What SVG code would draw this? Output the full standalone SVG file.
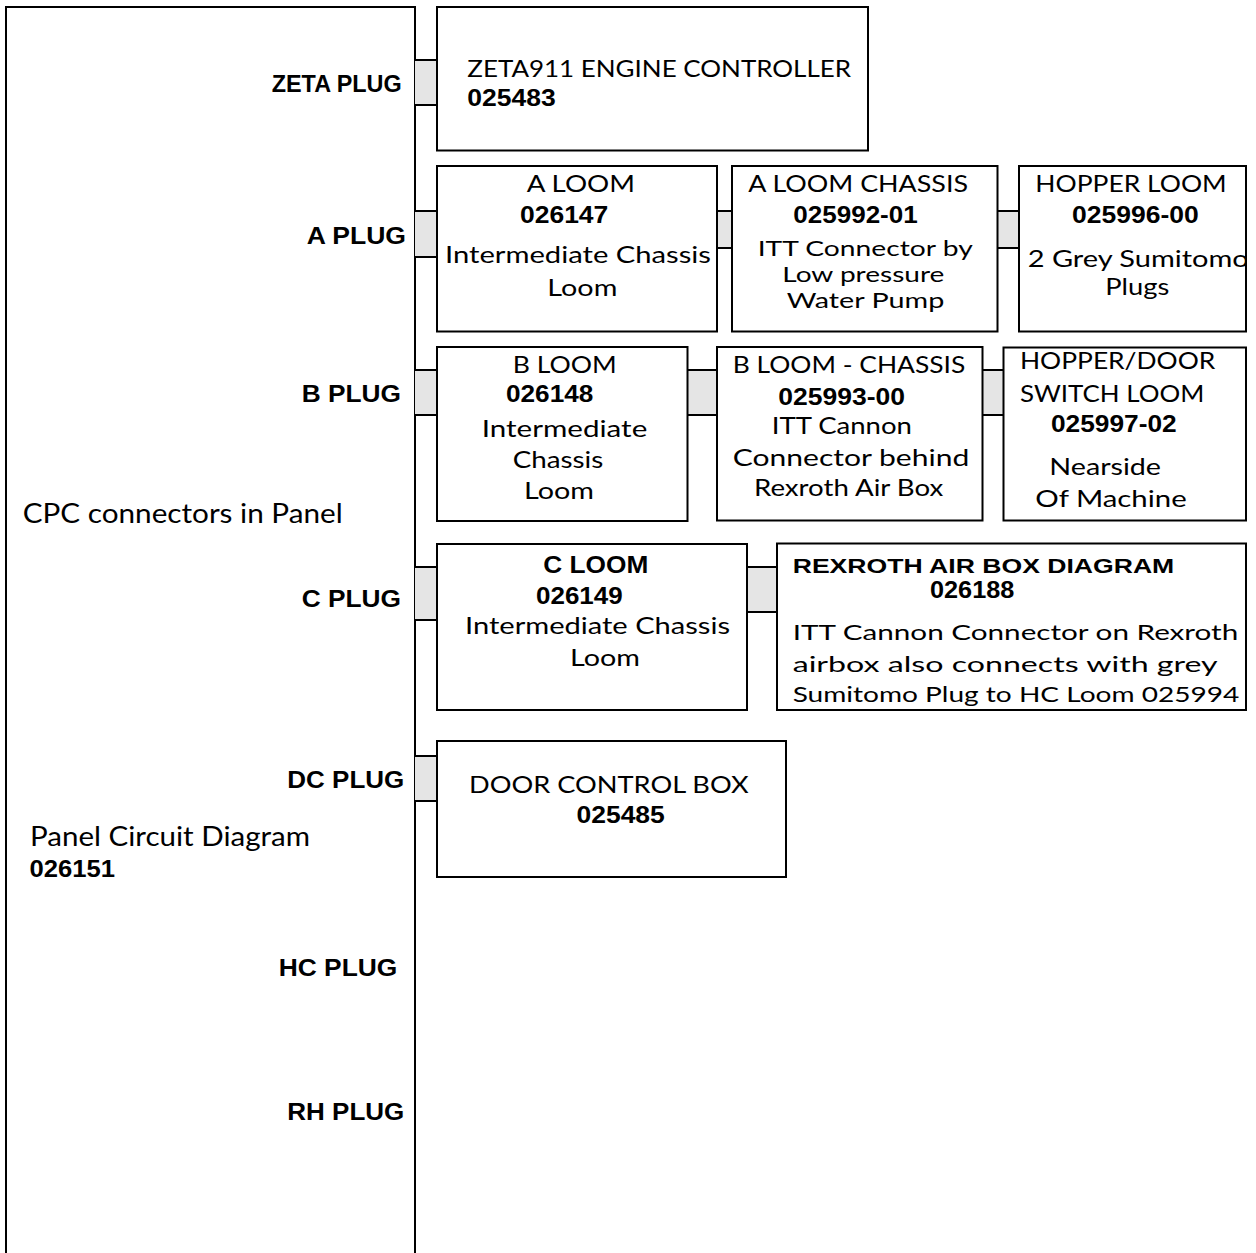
<svg xmlns="http://www.w3.org/2000/svg" width="1256" height="1253" viewBox="0 0 1256 1253">
<style>
.bx{fill:#fff;stroke:#000;stroke-width:2}
.ln{fill:none;stroke:#000;stroke-width:2}
.cf{fill:#e5e5e5;stroke:none}
.r{font-family:Lato,"DejaVu Sans",sans-serif;font-weight:400;font-size:24px;fill:#000}
.b{font-family:"Liberation Sans",Arial,sans-serif;font-weight:bold;font-size:24px;fill:#000}
.s21{font-size:21px}
.s23{font-size:23px}
.s26{font-size:26px}
</style>
<defs>
<clipPath id="clipHopper"><rect x="1019" y="166" width="226" height="165"/></clipPath>
</defs>
<rect width="1256" height="1253" fill="#fff"/>

<g id="panel">
<polyline class="ln" points="6,1253 6,7 415,7 415,1253"/>
<text class="r s26" x="22.7" y="522.7" textLength="320" lengthAdjust="spacingAndGlyphs">CPC connectors in Panel</text>
<text class="r s26" x="30" y="845.7" textLength="280" lengthAdjust="spacingAndGlyphs">Panel Circuit Diagram</text>
<text class="b" x="29.5" y="876.7" textLength="85.5" lengthAdjust="spacingAndGlyphs">026151</text>
<text class="b" x="271.7" y="92" textLength="130" lengthAdjust="spacingAndGlyphs">ZETA PLUG</text>
<text class="b" x="306.7" y="244.3" textLength="99.3" lengthAdjust="spacingAndGlyphs">A PLUG</text>
<text class="b" x="301.7" y="401.7" textLength="99.3" lengthAdjust="spacingAndGlyphs">B PLUG</text>
<text class="b" x="301.7" y="606.7" textLength="99.3" lengthAdjust="spacingAndGlyphs">C PLUG</text>
<text class="b" x="287.3" y="788.3" textLength="117" lengthAdjust="spacingAndGlyphs">DC PLUG</text>
<text class="b" x="278.7" y="976" textLength="118.7" lengthAdjust="spacingAndGlyphs">HC PLUG</text>
<text class="b" x="287.3" y="1120" textLength="117" lengthAdjust="spacingAndGlyphs">RH PLUG</text>
</g>

<g id="connectors">
<rect class="cf" x="415" y="60" width="22" height="45"/><path class="ln" d="M415 60H437M415 105H437"/>
<rect class="cf" x="415" y="211" width="22" height="46"/><path class="ln" d="M415 211H437M415 257H437"/>
<rect class="cf" x="717" y="211" width="15" height="37"/><path class="ln" d="M717 211H732M717 248H732"/>
<rect class="cf" x="997.5" y="211" width="21.5" height="37"/><path class="ln" d="M997.5 211H1019M997.5 248H1019"/>
<rect class="cf" x="415" y="370" width="22" height="45"/><path class="ln" d="M415 370H437M415 415H437"/>
<rect class="cf" x="687.5" y="370" width="29.5" height="45"/><path class="ln" d="M687.5 370H717M687.5 415H717"/>
<rect class="cf" x="982.5" y="370" width="21" height="45"/><path class="ln" d="M982.5 370H1003.5M982.5 415H1003.5"/>
<rect class="cf" x="415" y="567" width="22" height="53"/><path class="ln" d="M415 567H437M415 620H437"/>
<rect class="cf" x="747" y="567" width="30" height="45"/><path class="ln" d="M747 567H777M747 612H777"/>
<rect class="cf" x="415" y="756" width="22" height="45"/><path class="ln" d="M415 756H437M415 801H437"/>
</g>

<g id="zeta">
<rect class="bx" x="437" y="7" width="431" height="143.5"/>
<text class="r" x="467.3" y="76.7" textLength="383.7" lengthAdjust="spacingAndGlyphs">ZETA911 ENGINE CONTROLLER</text>
<text class="b" x="467.3" y="106" textLength="88.4" lengthAdjust="spacingAndGlyphs">025483</text>
</g>

<g id="a-loom">
<rect class="bx" x="437" y="166" width="280" height="165.5"/>
<text class="r" x="526.7" y="192.3" textLength="108.3" lengthAdjust="spacingAndGlyphs">A LOOM</text>
<text class="b" x="520" y="223.3" textLength="88.3" lengthAdjust="spacingAndGlyphs">026147</text>
<text class="r" x="445" y="263.3" textLength="266" lengthAdjust="spacingAndGlyphs">Intermediate Chassis</text>
<text class="r" x="547.3" y="295.7" textLength="70" lengthAdjust="spacingAndGlyphs">Loom</text>
</g>

<g id="a-loom-chassis">
<rect class="bx" x="732" y="166" width="265.5" height="165.5"/>
<text class="r" x="748.3" y="191.7" textLength="219.7" lengthAdjust="spacingAndGlyphs">A LOOM CHASSIS</text>
<text class="b" x="793.3" y="223.3" textLength="124.4" lengthAdjust="spacingAndGlyphs">025992-01</text>
<text class="r s21" x="757.7" y="255.7" textLength="215" lengthAdjust="spacingAndGlyphs">ITT Connector by</text>
<text class="r s21" x="782.3" y="281.7" textLength="162" lengthAdjust="spacingAndGlyphs">Low pressure</text>
<text class="r s21" x="786.7" y="308.3" textLength="157.6" lengthAdjust="spacingAndGlyphs">Water Pump</text>
</g>

<g id="hopper-loom">
<rect class="bx" x="1019" y="166" width="227" height="165.5"/>
<text class="r" x="1035.3" y="191.7" textLength="191.4" lengthAdjust="spacingAndGlyphs">HOPPER LOOM</text>
<text class="b" x="1072" y="223.3" textLength="126.7" lengthAdjust="spacingAndGlyphs">025996-00</text>
<text class="r s23" x="1027.7" y="266.7" textLength="221" lengthAdjust="spacingAndGlyphs" clip-path="url(#clipHopper)">2 Grey Sumitomo</text>
<text class="r s23" x="1105.3" y="295" textLength="64" lengthAdjust="spacingAndGlyphs">Plugs</text>
</g>

<g id="b-loom">
<rect class="bx" x="437" y="347" width="250.5" height="174"/>
<text class="r" x="512.7" y="373.3" textLength="104" lengthAdjust="spacingAndGlyphs">B LOOM</text>
<text class="b" x="506" y="401.7" textLength="87.3" lengthAdjust="spacingAndGlyphs">026148</text>
<text class="r" x="481.7" y="436.7" textLength="165.6" lengthAdjust="spacingAndGlyphs">Intermediate</text>
<text class="r" x="512.7" y="468.3" textLength="90.6" lengthAdjust="spacingAndGlyphs">Chassis</text>
<text class="r" x="524" y="499.3" textLength="70" lengthAdjust="spacingAndGlyphs">Loom</text>
</g>

<g id="b-loom-chassis">
<rect class="bx" x="717" y="347" width="265.5" height="173.5"/>
<text class="r" x="732.7" y="373.3" textLength="232.6" lengthAdjust="spacingAndGlyphs">B LOOM - CHASSIS</text>
<text class="b" x="778.3" y="405" textLength="126.7" lengthAdjust="spacingAndGlyphs">025993-00</text>
<text class="r" x="771.7" y="434" textLength="140.3" lengthAdjust="spacingAndGlyphs">ITT Cannon</text>
<text class="r" x="732.7" y="466" textLength="236.6" lengthAdjust="spacingAndGlyphs">Connector behind</text>
<text class="r" x="754" y="496" textLength="189.3" lengthAdjust="spacingAndGlyphs">Rexroth Air Box</text>
</g>

<g id="hopper-door">
<rect class="bx" x="1003.5" y="347.5" width="242.5" height="173"/>
<text class="r" x="1020" y="369.3" textLength="195.3" lengthAdjust="spacingAndGlyphs">HOPPER/DOOR</text>
<text class="r" x="1020" y="401.7" textLength="184.3" lengthAdjust="spacingAndGlyphs">SWITCH LOOM</text>
<text class="b" x="1051" y="431.7" textLength="125.7" lengthAdjust="spacingAndGlyphs">025997-02</text>
<text class="r" x="1049.3" y="475" textLength="111.7" lengthAdjust="spacingAndGlyphs">Nearside</text>
<text class="r" x="1035.3" y="506.7" textLength="151.4" lengthAdjust="spacingAndGlyphs">Of Machine</text>
</g>

<g id="c-loom">
<rect class="bx" x="437" y="544" width="310" height="166"/>
<text class="b" x="543.3" y="573.3" textLength="105" lengthAdjust="spacingAndGlyphs">C LOOM</text>
<text class="b" x="536" y="604" textLength="86.7" lengthAdjust="spacingAndGlyphs">026149</text>
<text class="r" x="465" y="634" textLength="265" lengthAdjust="spacingAndGlyphs">Intermediate Chassis</text>
<text class="r" x="570" y="666" textLength="70" lengthAdjust="spacingAndGlyphs">Loom</text>
</g>

<g id="rexroth">
<rect class="bx" x="777" y="543.5" width="469" height="166.5"/>
<text class="b s21" x="792.7" y="573.3" textLength="381.6" lengthAdjust="spacingAndGlyphs">REXROTH AIR BOX DIAGRAM</text>
<text class="b" x="930" y="597.7" textLength="84.3" lengthAdjust="spacingAndGlyphs">026188</text>
<text class="r s21" x="792.7" y="640" textLength="445.6" lengthAdjust="spacingAndGlyphs">ITT Cannon Connector on Rexroth</text>
<text class="r s21" x="792.7" y="671.7" textLength="425" lengthAdjust="spacingAndGlyphs">airbox also connects with grey</text>
<text class="r s21" x="792.7" y="701.7" textLength="446.6" lengthAdjust="spacingAndGlyphs">Sumitomo Plug to HC Loom 025994</text>
</g>

<g id="door-control">
<rect class="bx" x="437" y="741" width="349" height="136"/>
<text class="r" x="469" y="793.3" textLength="279.6" lengthAdjust="spacingAndGlyphs">DOOR CONTROL BOX</text>
<text class="b" x="576.5" y="823.3" textLength="88.3" lengthAdjust="spacingAndGlyphs">025485</text>
</g>
</svg>
